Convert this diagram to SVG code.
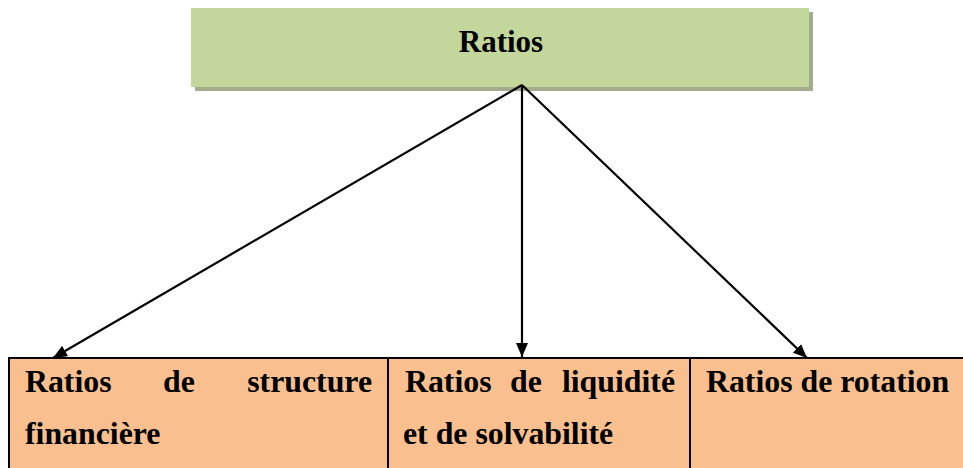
<svg xmlns="http://www.w3.org/2000/svg" width="963" height="468" viewBox="0 0 963 468">
<style>
.t{font-family:"Liberation Serif","Times New Roman",serif;font-weight:bold;font-size:31px;fill:#000}
.c{font-size:31.8px}
.cell{fill:#FABF8F;stroke:#000;stroke-width:2}
.conn{stroke:#000;stroke-width:2.2;fill:none;marker-end:url(#ah)}
</style>
<defs>
<marker id="ah" viewBox="0 0 14 12" refX="14" refY="6" markerWidth="14" markerHeight="12" markerUnits="userSpaceOnUse" orient="auto"><path d="M0,0 L14,6 L0,12 z" fill="#000"/></marker>
</defs>
<rect width="963" height="468" fill="#fff"/>
<g id="ratios">
<rect x="195" y="12" width="618" height="79" fill="#A4AC8E"/>
<rect x="191" y="8" width="618" height="79" fill="#C3D69B"/>
<text class="t" x="501" y="52" text-anchor="middle">Ratios</text>
</g>
<g id="structure">
<rect class="cell" x="9" y="358" width="379" height="120"/>
<text class="t c" x="25" y="392">Ratios</text>
<text class="t c" x="163" y="392">de</text>
<text class="t c" x="372" y="392" text-anchor="end">structure</text>
<text class="t c" x="25" y="444">financière</text>
</g>
<g id="liquidite">
<rect class="cell" x="388" y="358" width="302" height="120"/>
<text class="t c" x="405" y="392">Ratios</text>
<text class="t c" x="510" y="392">de</text>
<text class="t c" x="675" y="392" text-anchor="end">liquidité</text>
<text class="t c" x="403" y="444">et de solvabilité</text>
</g>
<g id="rotation">
<rect class="cell" x="690" y="358" width="285" height="120"/>
<text class="t c" x="706" y="392">Ratios de rotation</text>
</g>
<g id="connectors">
<line class="conn" x1="522" y1="85" x2="53" y2="358"/>
<line class="conn" x1="522" y1="85" x2="522" y2="357"/>
<line class="conn" x1="522" y1="85" x2="807" y2="358"/>
</g>
</svg>
